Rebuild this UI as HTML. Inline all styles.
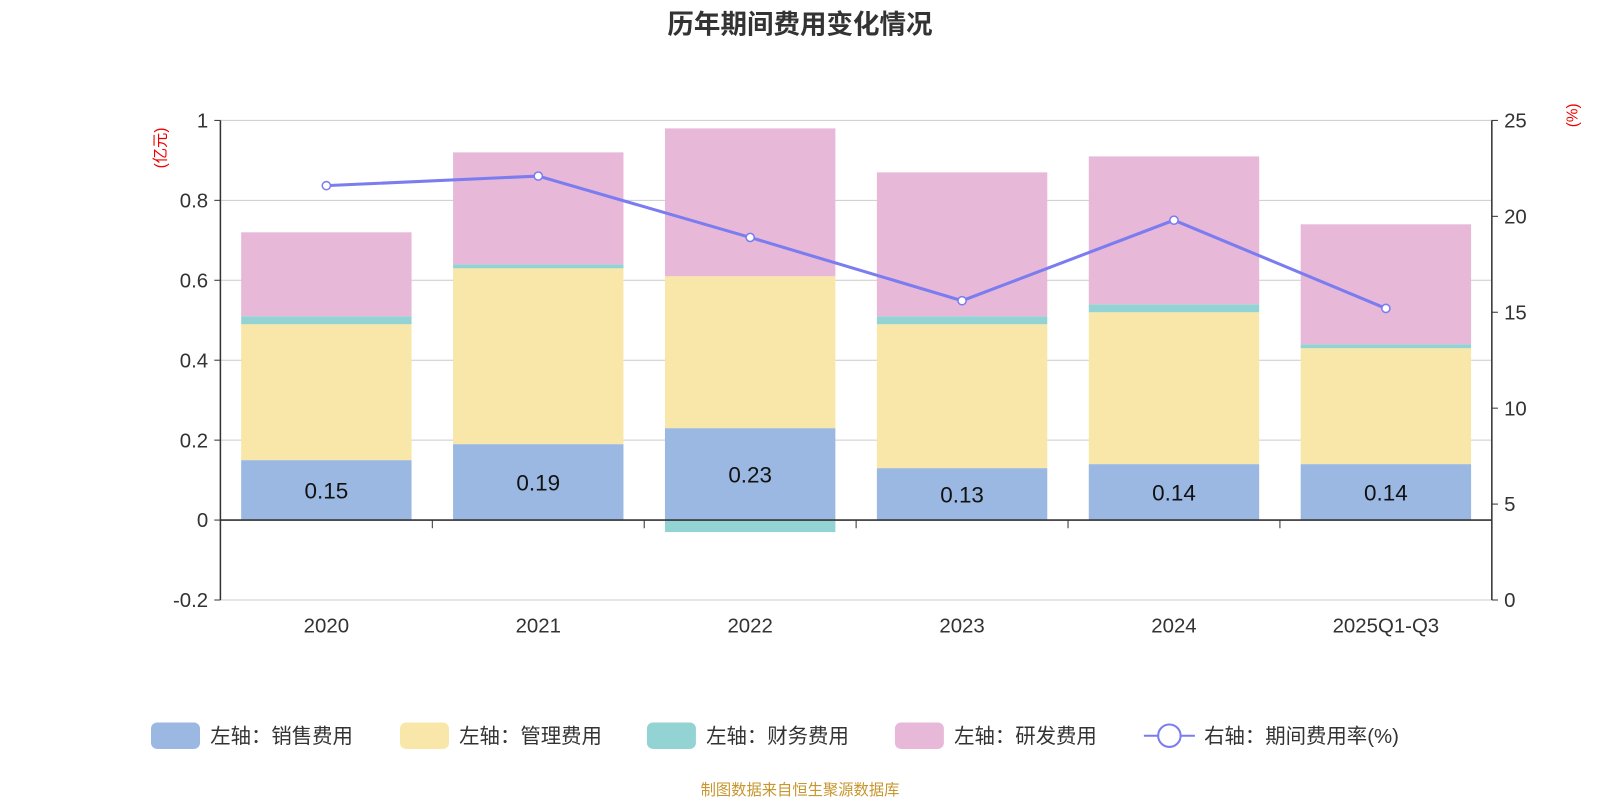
<!DOCTYPE html>
<html><head><meta charset="utf-8"><style>
body{margin:0;background:#fff;font-family:"Liberation Sans","Noto Sans CJK SC",sans-serif;}
svg text{font-family:"Liberation Sans","Noto Sans CJK SC",sans-serif;}
</style></head><body>
<svg id="chart" width="1600" height="800" viewBox="0 0 1568 784">
<text x="784" y="33" text-anchor="middle" font-size="26" font-weight="bold" fill="#333">历年期间费用变化情况</text>
<text x="0" y="0" transform="translate(162,145) rotate(-90)" text-anchor="middle" font-size="15" fill="#e00">(亿元)</text>
<text x="0" y="0" transform="translate(1546,113) rotate(-90)" text-anchor="middle" font-size="15" fill="#e00">(%)</text>
<g id="grid"></g><g id="bars"></g><g id="axes"></g><g id="line"></g>
<g id="legend" font-size="20" fill="#333"></g>
<text x="784" y="779" text-anchor="middle" font-size="15" fill="#c8962e">制图数据来自恒生聚源数据库</text>
</svg>
<script>
const categories=["2020","2021","2022","2023","2024","2025Q1-Q3"];
const sales=[0.15,0.19,0.23,0.13,0.14,0.14];
const mgmt=[0.34,0.44,0.38,0.36,0.38,0.29];
const fin=[0.02,0.01,-0.03,0.02,0.02,0.01];
const rd=[0.21,0.28,0.37,0.36,0.37,0.30];
const rate=[21.6,22.1,18.9,15.6,19.8,15.2];
const leftTicks=[-0.2,0,0.2,0.4,0.6,0.8,1];
const rightTicks=[0,5,10,15,20,25];
const NS="http://www.w3.org/2000/svg";
const X0=216,X1=1462,Y0=588,Y1=118;
const yL=v=>Y0-(v+0.2)/1.2*(Y0-Y1);
const yR=v=>Y0-v/25*(Y0-Y1);
const cw=(X1-X0)/categories.length;
const xc=i=>X0+cw*(i+0.5);
function mk(tag,attrs,parent,text){const e=document.createElementNS(NS,tag);for(const k in attrs)e.setAttribute(k,attrs[k]);if(text!==undefined)e.textContent=text;document.getElementById(parent).appendChild(e);return e;}
leftTicks.forEach(t=>{
 const g=mk('line',{x1:X0,x2:X1,y1:yL(t),y2:yL(t),stroke:'#ccc','stroke-width':1},'grid');
 
 
 const l=mk('text',{x:X0-12,y:yL(t)+7,'text-anchor':'end','font-size':20,fill:'#333'},'axes',String(t));
 
 
 mk('line',{x1:X0-6,x2:X0,y1:yL(t),y2:yL(t),stroke:'#333'},'axes');
});
rightTicks.forEach(t=>{
 const l=mk('text',{x:X1+12,y:yR(t)+7,'font-size':20,fill:'#333'},'axes',String(t));
 
 
 mk('line',{x1:X1,x2:X1+6,y1:yR(t),y2:yR(t),stroke:'#333'},'axes');
});
const colors=['#9bb8e2','#f8e7a8','#93d3d3','#e7b8d8'];
const series=[sales,mgmt,fin,rd];
const names=['sales','mgmt','fin','rd'];
const bw=167;
categories.forEach((c,i)=>{
 let pos=0,neg=0;
 series.forEach((s,k)=>{
  const v=s[i];let a,b;
  if(v>=0){a=pos;b=pos+v;pos=b;}else{a=neg;b=neg+v;neg=b;}
  const r=mk('rect',{x:xc(i)-bw/2,y:Math.min(yL(a),yL(b)),width:bw,height:Math.abs(yL(a)-yL(b)),fill:colors[k]},'bars');
  
  
 });
 const t=mk('text',{x:xc(i),y:(yL(0)+yL(sales[i]))/2+8,'text-anchor':'middle','font-size':22,fill:'#111'},'bars',String(sales[i]));
 
 
 const xl=mk('text',{x:xc(i),y:620,'text-anchor':'middle','font-size':20,fill:'#333'},'axes',c);
 
 
 if(i>0)mk('line',{x1:X0+cw*i,x2:X0+cw*i,y1:yL(0),y2:yL(0)+8,stroke:'#333'},'axes');
});
mk('line',{x1:X0,x2:X1,y1:yL(0),y2:yL(0),stroke:'#333','stroke-width':1.5},'axes');
mk('line',{x1:X0,x2:X0,y1:Y1,y2:Y0,stroke:'#333','stroke-width':1.5},'axes');
mk('line',{x1:X1,x2:X1,y1:Y1,y2:Y0,stroke:'#333','stroke-width':1.5},'axes');
const pl=mk('polyline',{points:rate.map((v,i)=>xc(i)+','+yR(v)).join(' '),fill:'none',stroke:'#7a7cf0','stroke-width':3},'line');


rate.forEach((v,i)=>{
 const p=mk('circle',{cx:xc(i),cy:yR(v),r:4,fill:'#fff',stroke:'#7a7cf0','stroke-width':1.5},'line');
 
 
});
const leg=[['左轴：销售费用',148,colors[0]],['左轴：管理费用',392,colors[1]],['左轴：财务费用',634,colors[2]],['左轴：研发费用',877,colors[3]]];
leg.forEach(([t,x,c])=>{
 const r=mk('rect',{x:x,y:708,width:48,height:26,rx:6,fill:c},'legend');
 
 
 mk('text',{x:x+58,y:728,'font-size':20,fill:'#333'},'legend',t);
});
mk('line',{x1:1121,x2:1171,y1:721,y2:721,stroke:'#7a7cf0','stroke-width':2},'legend');
const lc=mk('circle',{cx:1146,cy:721,r:11,fill:'#fff',stroke:'#7a7cf0','stroke-width':2},'legend');


mk('text',{x:1180,y:728,'font-size':20,fill:'#333'},'legend','右轴：期间费用率(%)');
</script>
</body></html>
